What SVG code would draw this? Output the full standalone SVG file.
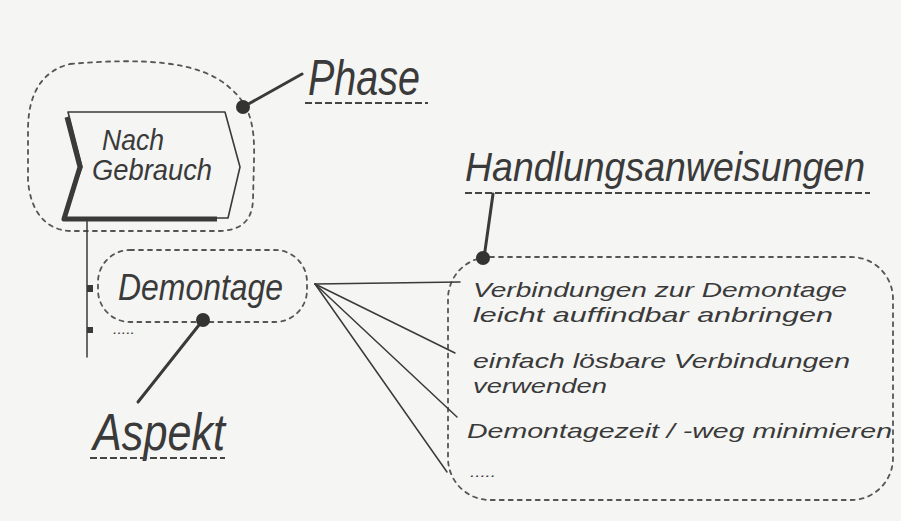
<svg xmlns="http://www.w3.org/2000/svg" width="901" height="521" viewBox="0 0 901 521">
<style>
.bg{fill:#f5f5f3}
.hand{font-family:"Liberation Sans",Arial,sans-serif;font-style:italic;fill:#3a3a3a}
.body{font-size:21px}
.blob{fill:none;stroke:#555;stroke-width:1.8;stroke-dasharray:4 5;stroke-linecap:round}
.ul{fill:none;stroke:#444;stroke-width:2;stroke-dasharray:7 3}
.ln{fill:none;stroke:#3a3a3a;stroke-width:3;stroke-linecap:round}
.thin{fill:none;stroke:#3a3a3a;stroke-width:1.5;stroke-linecap:round}
.dot{fill:#333}
</style>
<rect class="bg" x="0" y="0" width="901" height="521"/>

<g id="phase-node">
  <path class="blob" d="M70,64 C140,58 200,60 230,88 C250,105 255,125 254,160 L253,200 C252,222 240,230 220,231 L70,231 C45,230 30,210 28,180 L28,130 C28,90 45,70 70,64 Z"/>
  <polygon points="68,112 225,112 240,167 228,218 63,218 82,167" fill="none" stroke="#3a3a3a" stroke-width="1.6" stroke-linejoin="round"/>
  <path d="M67,117 L80,167 L64,219 L217,219" fill="none" stroke="#3a3a3a" stroke-width="5" stroke-linejoin="round"/>
  <text class="hand" x="102" y="150" font-size="30" textLength="62" lengthAdjust="spacingAndGlyphs">Nach</text>
  <text class="hand" x="92" y="180" font-size="30" textLength="120" lengthAdjust="spacingAndGlyphs">Gebrauch</text>
</g>

<g id="phase-label">
  <text class="hand" x="308" y="95" font-size="50" textLength="112" lengthAdjust="spacingAndGlyphs">Phase</text>
  <line class="ul" x1="305" y1="103" x2="428" y2="103"/>
</g>

<g id="aspect-node">
  <rect class="blob" x="98" y="250" width="209" height="72" rx="32"/>
  <text class="hand" x="118" y="300" font-size="36" textLength="165" lengthAdjust="spacingAndGlyphs">Demontage</text>
</g>

<g id="aspect-more">
  <text class="hand" x="113" y="334" font-size="14" textLength="22" lengthAdjust="spacingAndGlyphs">.....</text>
</g>

<g id="aspect-label">
  <text class="hand" x="93" y="450" font-size="52" textLength="132" lengthAdjust="spacingAndGlyphs">Aspekt</text>
  <line class="ul" x1="90" y1="458" x2="225" y2="458"/>
</g>

<g id="instructions-label">
  <text class="hand" x="465" y="181" font-size="40" textLength="400" lengthAdjust="spacingAndGlyphs">Handlungsanweisungen</text>
  <line class="ul" x1="465" y1="193" x2="870" y2="193"/>
</g>

<g id="instructions-node">
  <rect class="blob" x="448" y="257" width="445" height="243" rx="42"/>
  <text class="hand body" x="473" y="297" textLength="374" lengthAdjust="spacingAndGlyphs">Verbindungen zur Demontage</text>
  <text class="hand body" x="473" y="322" textLength="360" lengthAdjust="spacingAndGlyphs">leicht auffindbar anbringen</text>
  <text class="hand body" x="473" y="368" textLength="377" lengthAdjust="spacingAndGlyphs">einfach lösbare Verbindungen</text>
  <text class="hand body" x="473" y="393" textLength="134" lengthAdjust="spacingAndGlyphs">verwenden</text>
  <text class="hand body" x="467" y="438" textLength="425" lengthAdjust="spacingAndGlyphs">Demontagezeit / -weg minimieren</text>
  <text class="hand" x="470" y="477" font-size="14" textLength="26" lengthAdjust="spacingAndGlyphs">.....</text>
</g>

<g id="connectors">
  <line class="thin" x1="87" y1="219" x2="87" y2="357"/>
  <rect x="87" y="285" width="6" height="7" fill="#3a3a3a"/>
  <rect x="87" y="327" width="6" height="6" fill="#3a3a3a"/>
  <line class="ln" x1="243" y1="107" x2="302" y2="74"/>
  <circle class="dot" cx="243" cy="107" r="7"/>
  <line class="ln" x1="203" y1="320" x2="138" y2="402"/>
  <circle class="dot" cx="203" cy="320" r="7"/>
  <line class="ln" x1="493" y1="194" x2="484" y2="258"/>
  <circle class="dot" cx="483" cy="258" r="7"/>
  <line class="thin" x1="315" y1="284" x2="460" y2="282"/>
  <line class="thin" x1="315" y1="284" x2="455" y2="353"/>
  <line class="thin" x1="315" y1="284" x2="457" y2="417"/>
  <line class="thin" x1="315" y1="284" x2="447" y2="472"/>
</g>
</svg>
